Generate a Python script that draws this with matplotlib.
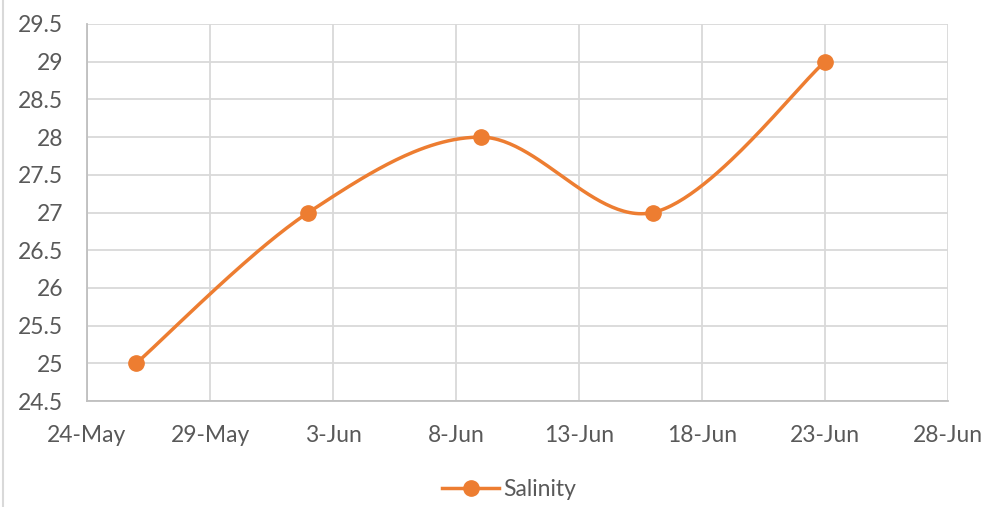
import matplotlib
matplotlib.use("Agg")
import matplotlib.pyplot as plt
import matplotlib.dates as mdates
from matplotlib.lines import Line2D
import numpy as np
import datetime as dt

# Data
dates = ["2020-05-26", "2020-06-02", "2020-06-09", "2020-06-16", "2020-06-23"]
salinity = [25, 27, 28, 27, 29]
series_name = "Salinity"
tick_dates = ["2020-05-24", "2020-05-29", "2020-06-03", "2020-06-08",
              "2020-06-13", "2020-06-18", "2020-06-23", "2020-06-28"]
y_ticks = [24.5, 25, 25.5, 26, 26.5, 27, 27.5, 28, 28.5, 29, 29.5]

ORANGE = "#ED7D31"
GRID = "#D9D9D9"
TEXT = "#595959"
FS = 16.5

plt.rcParams['font.family'] = ['Lato', 'DejaVu Sans']

fig = plt.figure(figsize=(10.07, 5.07), dpi=100)
ax = fig.add_axes([87/1007, 1-401/507, (948-87)/1007, (401-24)/507])

xd = mdates.date2num([dt.datetime.strptime(d, "%Y-%m-%d") for d in dates])
xt = mdates.date2num([dt.datetime.strptime(d, "%Y-%m-%d") for d in tick_dates])
ax.set_xlim(xt[0], xt[-1])
ax.set_ylim(y_ticks[0], y_ticks[-1])

# Smooth curve (Catmull-Rom / Excel-like) computed in display space
pts = ax.transData.transform(np.column_stack([xd, salinity]))
n = len(pts)
curve = []
for i in range(n - 1):
    p0 = pts[i - 1] if i > 0 else pts[i]
    p1 = pts[i]
    p2 = pts[i + 1]
    p3 = pts[i + 2] if i + 2 < n else pts[i + 1]
    c1 = p1 + (p2 - p0) / 6.0
    c2 = p2 - (p3 - p1) / 6.0
    t = np.linspace(0, 1, 60)[:, None]
    seg = ((1 - t) ** 3) * p1 + 3 * ((1 - t) ** 2) * t * c1 + 3 * (1 - t) * t ** 2 * c2 + t ** 3 * p2
    curve.append(seg if i == 0 else seg[1:])
curve = np.vstack(curve)
curve_data = ax.transData.inverted().transform(curve)

ax.plot(curve_data[:, 0], curve_data[:, 1], color=ORANGE, lw=2.5, solid_capstyle='round', zorder=3)
ax.plot(xd, salinity, linestyle='none', marker='o', markersize=11, color=ORANGE, zorder=4)

ax.set_xticks(xt)
ax.xaxis.set_major_formatter(mdates.DateFormatter('%-d-%b'))
ax.set_yticks(y_ticks)
ax.set_yticklabels([f"{v:g}" for v in y_ticks])
ax.grid(True, color=GRID, lw=1.3)
ax.set_axisbelow(True)
for s in ['top', 'right']:
    ax.spines[s].set_visible(False)
for s in ['left', 'bottom']:
    ax.spines[s].set_color("#BFBFBF")
    ax.spines[s].set_linewidth(1.3)
ax.tick_params(length=0, labelsize=FS, labelcolor=TEXT)
ax.tick_params(axis='y', pad=17)
ax.tick_params(axis='x', pad=17.5)

handle = Line2D([0], [0], color=ORANGE, lw=2.5, marker='o', markersize=11)
leg = fig.legend([handle], [series_name], loc='center', bbox_to_anchor=(509/1007, 1-490/507),
                 frameon=False, fontsize=FS, handlelength=2.5, handletextpad=0.15)
for t in leg.get_texts():
    t.set_color(TEXT)

fig.add_artist(Line2D([2.5/1007, 2.5/1007], [0, 1], color="#D9D9D9", lw=1.5, transform=fig.transFigure))

fig.savefig("out.png", dpi=100)
